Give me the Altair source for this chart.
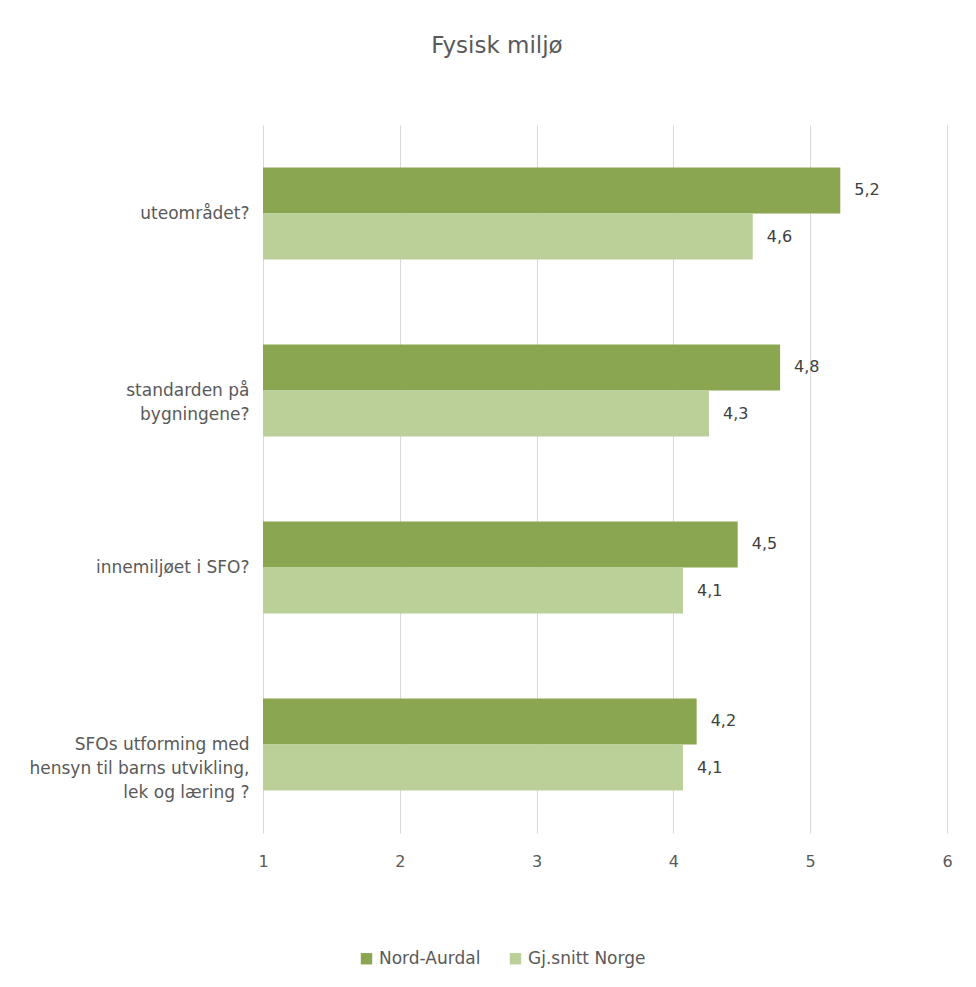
import altair as alt
import pandas as pd

categories = [
    "uteområdet?",
    "standarden på\nbygningene?",
    "innemiljøet i SFO?",
    "SFOs utforming med\nhensyn til barns utvikling,\nlek og læring ?",
]
series = ["Nord-Aurdal", "Gj.snitt Norge"]
nord_aurdal = [5.22, 4.78, 4.47, 4.17]
gj_snitt_norge = [4.58, 4.26, 4.07, 4.07]
colors = ["#8BA651", "#BBD099"]

rows = []
for c, a, b in zip(categories, nord_aurdal, gj_snitt_norge):
    rows.append({"cat": c, "serie": series[0], "v": a, "base": 1})
    rows.append({"cat": c, "serie": series[1], "v": b, "base": 1})
df = pd.DataFrame(rows)

FONT = "DejaVu Sans"
TXT = "#595959"

y_enc = alt.Y(
    "cat:N",
    sort=categories,
    scale=alt.Scale(paddingInner=0.48, paddingOuter=0.24),
    axis=alt.Axis(
        title=None,
        labelExpr="split(datum.label, '\\n')",
        labelFontSize=17,
        labelColor=TXT,
        labelFont=FONT,
        labelLineHeight=24,
        labelPadding=14,
        ticks=False,
        domain=False,
        grid=False,
        labelLimit=300,
    ),
)
yoff = alt.YOffset("serie:N", sort=series)

x_enc = alt.X(
    "v:Q",
    scale=alt.Scale(domain=[1, 6], zero=False, nice=False),
    axis=alt.Axis(
        title=None,
        values=[1, 2, 3, 4, 5, 6],
        format="d",
        labelFlush=False,
        labelFontSize=16,
        labelColor=TXT,
        labelFont=FONT,
        labelPadding=20,
        ticks=False,
        domain=False,
        grid=True,
        gridColor="#D9D9D9",
        gridWidth=1,
    ),
)

bars = alt.Chart(df).mark_bar().encode(
    x=x_enc,
    x2="base:Q",
    y=y_enc,
    yOffset=yoff,
    color=alt.Color(
        "serie:N",
        sort=series,
        scale=alt.Scale(domain=series, range=colors),
        legend=alt.Legend(
            title=None,
            orient="none",
            direction="horizontal",
            legendX=95,
            legendY=825,
            symbolType="square",
            symbolSize=130,
            symbolStrokeWidth=0,
            labelFontSize=17,
            labelColor=TXT,
            labelFont=FONT,
            columnPadding=26,
            labelOffset=4,
        ),
    ),
)

labels = alt.Chart(df).mark_text(
    align="left", baseline="middle", dx=14, fontSize=16, color="#404040", font=FONT
).transform_calculate(
    lab="replace(format(datum.v, '.1f'), '.', ',')"
).encode(
    x="v:Q",
    y=alt.Y("cat:N", sort=categories),
    yOffset=yoff,
    text="lab:N",
)

chart = (
    alt.layer(bars, labels)
    .properties(
        width=684,
        height=708,
        title=alt.TitleParams(
            "Fysisk miljø",
            fontSize=23,
            font=FONT,
            fontWeight="normal",
            color=TXT,
            anchor="middle",
            dx=-108,
            offset=67,
        ),
        autosize=alt.AutoSizeParams(type="none"),
        padding={"left": 263, "top": 125, "right": 29, "bottom": 154},
    )
    .configure(background="white", view=alt.ViewConfig(strokeWidth=0, stroke="transparent"))
)

chart.save("out.html", embed_options={"renderer": "svg", "actions": False})
